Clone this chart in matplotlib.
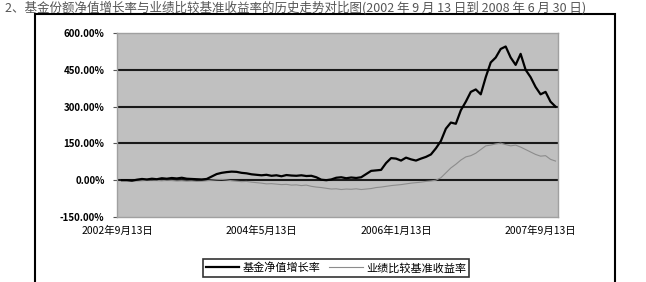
import matplotlib
matplotlib.use("Agg")
import matplotlib.pyplot as plt
from matplotlib.patches import Rectangle

plt.rcParams['font.family'] = ['Noto Sans CJK SC', 'DejaVu Sans']

title = "2、基金份额净值增长率与业绩比较基准收益率的历史走势对比图(2002 年 9 月 13 日到 2008 年 6 月 30 日)"

# 基金净值增长率 (%), sampled evenly from 2002-09-13 to 2008-06-30
fund = [0, 0, -2, 2, 5, 3, 6, 4, 8, 6, 9, 7, 10, 6, 5, 4,
        3, 5, 15, 25, 30, 33, 35, 34, 30, 28, 24, 22, 20, 22, 18, 20,
        16, 21, 19, 18, 20, 17, 18, 12, 2, 0, 3, 10, 12, 8, 11, 9,
        12, 25, 38, 40, 42, 70, 90, 88, 80, 92, 85, 80, 88, 95, 105, 130,
        160, 210, 235, 230, 285, 320, 360, 370, 350, 420, 480, 500, 535, 545, 500, 470,
        515, 450, 420, 380, 350, 360, 320, 300]

# 业绩比较基准收益率 (%)
bench = [0, -1, -2, -3, -2, 0, 1, -1, -2, 0, -1, -3, -2, -4, -3, -5,
         -4, -2, 0, 2, 3, 1, -2, -4, -6, -5, -8, -10, -12, -15, -14, -16,
         -18, -17, -20, -19, -22, -20, -25, -28, -30, -33, -36, -35, -38, -36, -37, -35,
         -38, -36, -34, -30, -28, -25, -22, -20, -18, -15, -12, -10, -8, -5, -3, 0,
         10, 30, 50, 65, 82, 95, 100, 110, 125, 140, 143, 148, 151, 145, 140, 143,
         135, 125, 115, 105, 98, 100, 85, 78]

y_ticks = [-150, 0, 150, 300, 450, 600]
x_tick_pos = [-1, 28, 55, 84]
x_tick_labels = ["2002年9月13日", "2004年5月13日", "2006年1月13日", "2007年9月13日"]

fig = plt.figure(figsize=(6.46, 2.82), dpi=100)

fig.text(0.008, 1 - 0.5 / 282, title, fontsize=9, color="#555555", va="top", ha="left")

# outer chart frame
fig.patches.append(Rectangle((35 / 646, -0.05), 580 / 646, 1.05 - 14 / 282,
                             transform=fig.transFigure, fill=False,
                             edgecolor="black", linewidth=1.5, zorder=0))

ax = fig.add_axes([117 / 646, 65 / 282, 441 / 646, 184 / 282])
ax.set_facecolor("#c0c0c0")

x = list(range(len(fund)))
ax.plot(x, bench, color="#8c8c8c", linewidth=0.8, label="业绩比较基准收益率", zorder=3)
ax.plot(x, fund, color="black", linewidth=1.6, label="基金净值增长率", zorder=4)

ax.set_ylim(-150, 600)
ax.set_xlim(-1, len(fund) - 0.5)
ax.set_yticks(y_ticks)
ax.set_yticklabels([f"{v:.2f}%" for v in y_ticks], fontsize=7, fontweight="bold")
ax.set_xticks(x_tick_pos)
ax.set_xticklabels(x_tick_labels, fontsize=7.5)
ax.tick_params(axis="x", length=0, pad=6)
ax.tick_params(axis="y", length=3, color="#555555", pad=6)

for v in [0, 150, 300, 450]:
    ax.axhline(v, color="#1a1a1a", linewidth=1.5, zorder=2)

for s in ax.spines.values():
    s.set_color("#a0a0a0")
    s.set_linewidth(1)

handles, labels = ax.get_legend_handles_labels()
leg = fig.legend(handles[::-1], labels[::-1], loc="center", bbox_to_anchor=(336 / 646, 1 - 268 / 282),
                 ncol=2, fontsize=8, frameon=True, fancybox=False, handlelength=3,
                 columnspacing=0.8, handletextpad=0.3, borderpad=0.3)
leg.get_frame().set_edgecolor("black")
leg.get_frame().set_linewidth(1.2)

fig.savefig("out.png", dpi=100)
